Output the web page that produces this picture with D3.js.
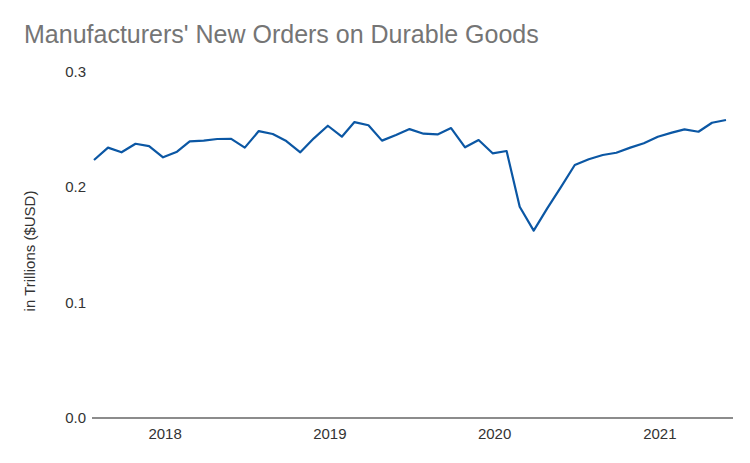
<!DOCTYPE html>
<html>
<head>
<meta charset="utf-8">
<script src="https://cdn.jsdelivr.net/npm/d3@7"></script>
<style>
  html, body { margin: 0; padding: 0; background: #fff; }
  svg { display: block; font-family: Arial, "Liberation Sans", sans-serif; }
</style>
</head>
<body>
<svg id="chart" width="750" height="463"></svg>
<script>
// Data: monthly, Aug 2017 – Jun 2021, in trillions of USD
const startMonth = "2017-08";
const values = [
  0.2237, 0.2344, 0.2304, 0.2378, 0.2358,             // Aug–Dec 2017
  0.2260, 0.2309, 0.2399, 0.2405, 0.2419, 0.2420,     // Jan–Jun 2018
  0.2344, 0.2488, 0.2462, 0.2401, 0.2304, 0.2425,     // Jul–Dec 2018
  0.2534, 0.2439, 0.2566, 0.2538, 0.2405, 0.2454,     // Jan–Jun 2019
  0.2505, 0.2465, 0.2459, 0.2514, 0.2347, 0.2410,     // Jul–Dec 2019
  0.2295, 0.2315, 0.1832, 0.1625, 0.1818, 0.2006,     // Jan–Jun 2020
  0.2194, 0.2243, 0.2280, 0.2300, 0.2344, 0.2382,     // Jul–Dec 2020
  0.2439, 0.2474, 0.2503, 0.2482, 0.2560, 0.2584      // Jan–Jun 2021
];
const yTicks = [0.0, 0.1, 0.2, 0.3];
const xTickYears = ["2018", "2019", "2020", "2021"];
const titleText = "Manufacturers' New Orders on Durable Goods";
const yAxisTitle = "in Trillions ($USD)";

const parseMonth = d3.timeParse("%Y-%m");
const start = parseMonth(startMonth);
const data = values.map((v, i) => ({ date: d3.timeMonth.offset(start, i), value: v }));

const svg = d3.select("#chart");
const plotLeft = 92, plotRight = 733, plotTop = 72, plotBottom = 418;

const x = d3.scaleTime()
  .domain([data[0].date, data[data.length - 1].date])
  .range([94, 726]);
const y = d3.scaleLinear().domain([0, 0.3]).range([plotBottom, plotTop]);

// Title
svg.append("text")
  .attr("x", 24).attr("y", 43)
  .attr("fill", "#757575")
  .attr("font-size", 25)
  .text(titleText);

// Y tick labels
svg.append("g").selectAll("text")
  .data(yTicks)
  .join("text")
  .attr("x", plotLeft - 6)
  .attr("y", d => y(d) + 5)
  .attr("text-anchor", "end")
  .attr("font-size", 15)
  .attr("fill", "#333")
  .text(d3.format(".1f"));

// Y axis title
svg.append("text")
  .attr("transform", `translate(35,${(plotTop + plotBottom) / 2 + 6}) rotate(-90)`)
  .attr("text-anchor", "middle")
  .attr("font-size", 15)
  .attr("fill", "#333")
  .text(yAxisTitle);

// X tick labels
svg.append("g").selectAll("text")
  .data(xTickYears)
  .join("text")
  .attr("x", d => x(parseMonth(d + "-01")) + 2)
  .attr("y", 439)
  .attr("text-anchor", "middle")
  .attr("font-size", 15)
  .attr("fill", "#333")
  .text(d => d);

// Baseline
svg.append("line")
  .attr("x1", plotLeft).attr("x2", plotRight)
  .attr("y1", y(0)).attr("y2", y(0))
  .attr("stroke", "#666")
  .attr("stroke-width", 1.5);

// Series line
const line = d3.line().x(d => x(d.date)).y(d => y(d.value));
svg.append("path")
  .datum(data)
  .attr("fill", "none")
  .attr("stroke", "#0b57a4")
  .attr("stroke-width", 2.2)
  .attr("stroke-linejoin", "round")
  .attr("d", line);
</script>
</body>
</html>
